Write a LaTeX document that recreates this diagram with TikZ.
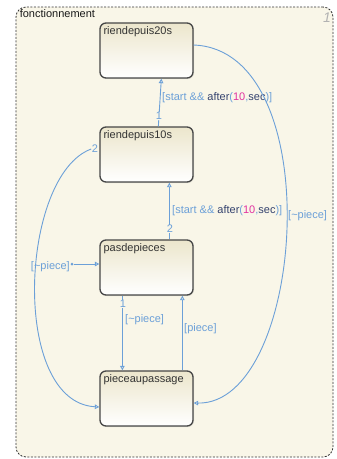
\documentclass[tikz,border=0pt]{standalone}
\usepackage{fontspec}
\setmainfont{Liberation Sans}
\usetikzlibrary{arrows.meta,calc,shadows}
\definecolor{bg}{RGB}{249,246,232}
\definecolor{tr}{RGB}{108,160,216}
\definecolor{navy}{RGB}{52,66,110}
\definecolor{mag}{RGB}{225,50,160}
\definecolor{sborder}{RGB}{70,70,70}
\definecolor{stop}{RGB}{236,230,204}
\newcommand{\myafterlbl}{\textcolor{tr}{[start \&\& }\textcolor{navy}{after}\textcolor{tr}{(}\textcolor{mag}{10}\textcolor{tr}{,}\textcolor{navy}{sec}\textcolor{tr}{)]}}
\begin{document}
\begin{tikzpicture}[x=1pt,y=-1pt, font=\fontsize{11}{13}\selectfont,
  stbox/.style={draw=sborder, line width=1.3pt, rounded corners=6pt, top color=stop, bottom color=white, minimum width=93pt, minimum height=55pt, inner sep=0pt, drop shadow={opacity=0.2,shadow xshift=1pt,shadow yshift=-1pt}},
  stname/.style={anchor=north west, text=black!80, inner sep=1pt},
  trans/.style={draw=tr, line width=0.9pt, -{Triangle[open,length=4.5pt,width=4.5pt]}},
  tlabel/.style={text=tr, inner sep=1pt},
  tnum/.style={text=tr, inner sep=0.5pt, fill=bg}]
\useasboundingbox (0,0) rectangle (337,459);
\fill[white] (0,0) rectangle (337,459);
\node[draw=black!80, line width=0.8pt, dash pattern=on 2pt off 1.5pt, rounded corners=10pt, fill=bg, minimum width=317pt, minimum height=450pt, inner sep=0pt] (outer) at (174.5,232) {};
\node[anchor=north west, inner sep=1pt, text=black!90] (title) at ($(outer.north west)+(3,2)$) {fonctionnement};
\node[text=black!30, font=\itshape\fontsize{14}{14}\selectfont] (corner) at (327,18) {1};
% states
\node[stbox] (s20) at (146.5,50.5) {};
\node[stname] (n20) at ($(s20.north west)+(3,3)$) {riendepuis20s};
\node[stbox] (s10) at (146.5,154.5) {};
\node[stname] (n10) at ($(s10.north west)+(3,3)$) {riendepuis10s};
\node[stbox] (spd) at (146.5,267.5) {};
\node[stname] (npd) at ($(spd.north west)+(3,3)$) {pasdepieces};
\node[stbox] (spa) at (146.5,398.5) {};
\node[stname] (npa) at ($(spa.north west)+(3,3)$) {pieceaupassage};
% transition 10s -> 20s
\draw[trans] ($(s10.north west)+(59,0)$) -- ($(s20.south west)+(62,0)$);
\node[tnum] (t1n) at (159,116) {1};
\node[tlabel, anchor=west] (t1l) at (161,98) {\myafterlbl};
% transition pasdepieces -> 10s
\draw[trans] ($(spd.north west)+(70,0)$) -- ($(s10.south west)+(70,0)$);
\node[tnum] (t2n) at (170,229) {2};
\node[tlabel, anchor=west] (t2l) at (171,211) {\myafterlbl};
% 20s -> pieceaupassage
\draw[trans] ($(s20.east)+(0,-5.5)$) .. controls (330,50) and (305,405) .. ($(spa.east)+(0,4.5)$);
\node[tlabel, anchor=west] (t3l) at (287,216) {[\textasciitilde piece]};
% 10s -> pieceaupassage
\node[tnum] (t4n) at (95,149) {2};
\draw[trans] (t4n.west) .. controls (20,175) and (10,402) .. ($(spa.west)+(0,8.5)$);
% default transition
\node[circle, fill=tr, inner sep=0pt, minimum size=3pt] (dot) at (72,264) {};
\draw[trans] (dot) -- ($(spd.west)+(0,-3.5)$);
\node[tlabel, anchor=east] (t5l) at (71,267) {[\textasciitilde piece]};
% pasdepieces -> pieceaupassage
\draw[trans] ($(spd.south west)+(23,0)$) -- ($(spa.north west)+(23,0)$);
\node[tnum] (t6n) at (123,304) {1};
\node[tlabel, anchor=west] (t6l) at (124,320) {[\textasciitilde piece]};
% pieceaupassage -> pasdepieces
\draw[trans] ($(spa.north west)+(83,0)$) -- ($(spd.south west)+(83,0)$);
\node[tlabel, anchor=west] (t7l) at (183,329) {[piece]};
\end{tikzpicture}
\end{document}
